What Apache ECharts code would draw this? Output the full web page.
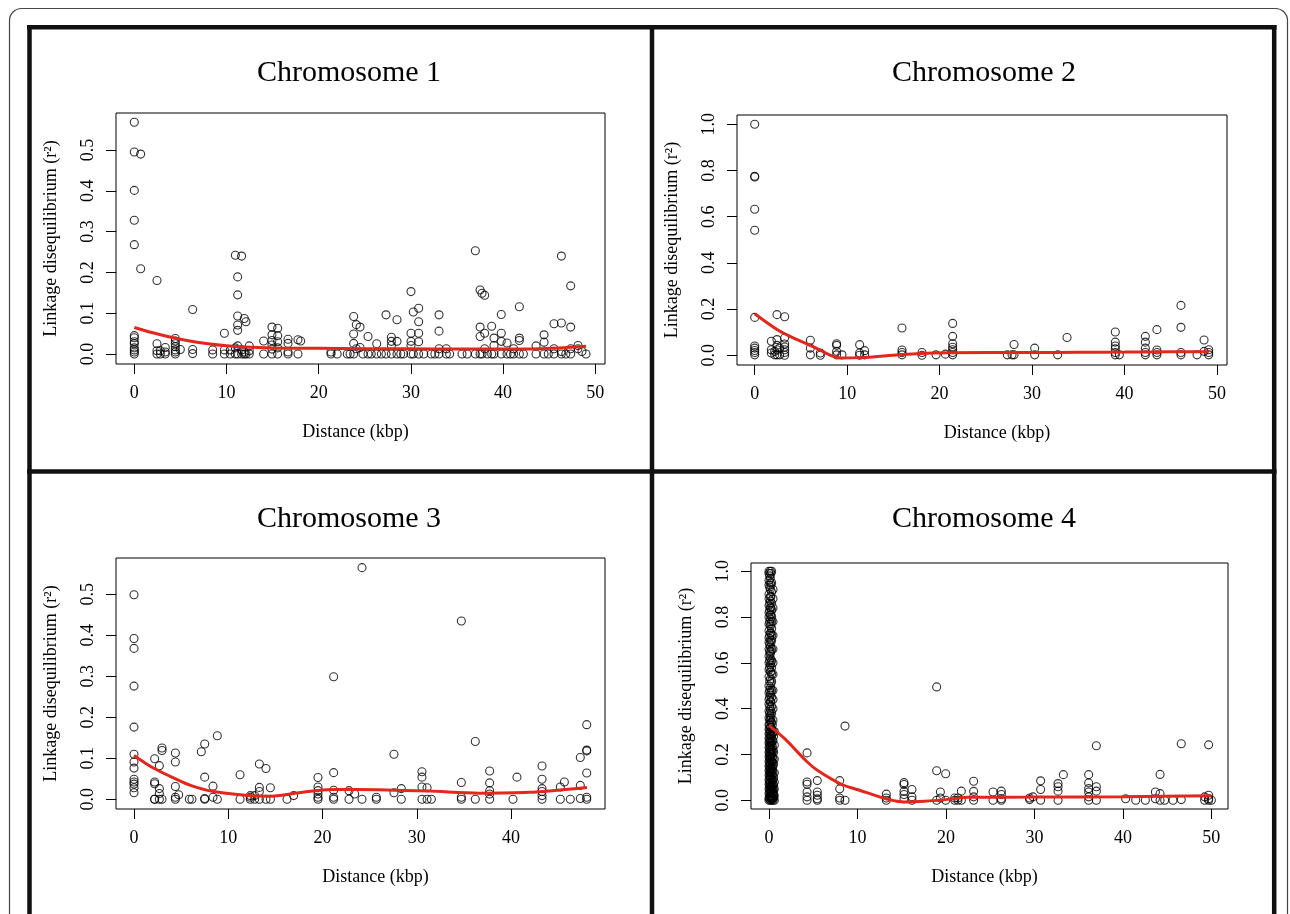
<!DOCTYPE html>
<html>
<head>
<meta charset="utf-8">
<title>Linkage disequilibrium decay</title>
<script src="https://cdn.jsdelivr.net/npm/echarts@6/dist/echarts.min.js"></script>
<style>
html, body { margin: 0; padding: 0; background: #fff; }
.ld { width: 1290px; height: 914px; }
</style>
</head>
<body>
<div class="ld"></div>
<script>
// distances (kbp) and the r2 values observed at each distance
var chr1Pos = [0, 0.69, 2.46, 2.82, 3.36, 4.45, 4.99, 6.33, 8.5, 9.77, 10.41, 10.96, 11.21, 11.64, 11.93, 12.11, 12.47,
	14.03, 14.93, 15.55, 16.67, 17.75, 18.04, 21.33, 22.0, 23.1, 23.4, 23.79, 24.08, 24.48, 24.8, 25.35, 25.7, 26.29, 26.8,
	27.3, 27.88, 28.49, 28.9, 29.2, 30.01, 30.26, 30.84, 31.4, 32.2, 32.6, 33.05, 33.84, 34.2, 35.54, 36.1, 36.99, 37.5,
	37.71, 38.0, 38.3, 38.76, 39.01, 39.8, 40.42, 40.8, 41.14, 41.76, 42.2, 43.57, 44.44, 44.9, 45.52, 46.32, 46.8, 47.33,
	48.12, 48.55, 48.99];
var chr1R2 = [
	[0.568, 0.495, 0.401, 0.328, 0.268, 0.045, 0.040, 0.030, 0.025, 0.015, 0.010, 0.005, 0.0],
	[0.490, 0.209], [0.180, 0.025, 0.008, 0.0], [0.008, 0.0], [0.016, 0.005, 0.0],
	[0.038, 0.032, 0.025, 0.018, 0.010, 0.005, 0.0], [0.011], [0.109, 0.011, 0.001], [0.010, 0.0],
	[0.051, 0.010, 0.0], [0.010, 0.0], [0.242, 0.015, 0.0], [0.189, 0.145, 0.093, 0.071, 0.058, 0.020, 0.0],
	[0.240, 0.010, 0.0], [0.087, 0.005, 0.0], [0.079, 0.0], [0.020, 0.008, 0.0],
	[0.032, 0.0], [0.066, 0.047, 0.033, 0.022, 0.012, 0.0], [0.063, 0.045, 0.030, 0.015, 0.0],
	[0.036, 0.026, 0.005, 0.0], [0.035, 0.0], [0.032], [0.005, 0.0], [0.0], [0.0], [0.0],
	[0.092, 0.049, 0.026, 0.0], [0.072, 0.013], [0.066, 0.016], [0.0], [0.043, 0.0], [0.0], [0.025, 0.0], [0.0],
	[0.096, 0.0], [0.041, 0.031, 0.021, 0.0], [0.084, 0.031, 0.0], [0.0], [0.0],
	[0.153, 0.051, 0.031, 0.021, 0.0], [0.103, 0.0], [0.112, 0.079, 0.051, 0.030, 0.0], [0.0], [0.0], [0.0],
	[0.096, 0.056, 0.013, 0.0], [0.013, 0.0], [0.0], [0.0], [0.0], [0.253, 0.0], [0.157, 0.066, 0.043, 0.0],
	[0.149, 0.0], [0.144, 0.051, 0.013], [0.0], [0.068, 0.0], [0.039, 0.021, 0.0], [0.097, 0.051, 0.031, 0.0],
	[0.027, 0.0], [0.0], [0.013, 0.0], [0.116, 0.039, 0.033, 0.0], [0.0], [0.020, 0.0], [0.047, 0.029, 0.0], [0.0],
	[0.074, 0.013, 0.0], [0.240, 0.076, 0.006, 0.0], [0.0], [0.167, 0.066, 0.013, 0.0],
	[0.021, 0.013], [0.006], [0.0]
];

var chr2Pos = [0, 1.80, 2.16, 2.41, 2.70, 3.24, 6.02, 7.10, 8.86, 9.44, 11.35, 11.89, 15.93, 18.09, 19.61, 20.62,
	21.41, 27.32, 27.83, 28.05, 30.28, 32.77, 33.78, 39.0, 39.44, 42.25, 43.5, 46.1, 47.84, 48.6, 49.1];
var chr2R2 = [
	[1.0, 0.775, 0.772, 0.632, 0.541, 0.164, 0.040, 0.031, 0.021, 0.012, 0.002],
	[0.061, 0.024, 0.010], [0.017, 0.002], [0.176, 0.068, 0.043, 0.024, 0.002], [0.031, 0.002],
	[0.167, 0.075, 0.049, 0.036, 0.024, 0.012, 0.0], [0.065, 0.031, 0.002], [0.010, 0.0],
	[0.050, 0.043, 0.017, 0.002], [0.002], [0.046, 0.010, 0.0], [0.020, 0.002], [0.118, 0.023, 0.012, 0.002],
	[0.012, 0.0], [0.002], [0.005], [0.138, 0.082, 0.050, 0.035, 0.024, 0.012, 0.002], [0.002], [0.002],
	[0.047, 0.002], [0.031, 0.002], [0.002], [0.077], [0.101, 0.057, 0.040, 0.028, 0.012, 0.002], [0.002],
	[0.082, 0.057, 0.031, 0.012, 0.002], [0.111, 0.023, 0.012, 0.002], [0.216, 0.121, 0.012, 0.002], [0.002],
	[0.066, 0.017], [0.024, 0.012, 0.002]
];

var chr3Pos = [0, 2.19, 2.69, 2.97, 4.39, 4.74, 5.87, 6.15, 7.14, 7.50, 8.38, 8.84, 11.25, 12.34, 12.80, 13.3, 14.0,
	14.47, 16.23, 16.94, 19.52, 21.18, 22.81, 23.41, 24.19, 25.71, 27.58, 28.36, 30.55, 31.09, 31.55, 34.73, 36.21,
	37.73, 40.21, 40.63, 43.29, 45.23, 45.66, 46.29, 47.35, 48.03];
var chr3R2 = [
	[0.499, 0.392, 0.368, 0.276, 0.176, 0.110, 0.091, 0.076, 0.049, 0.042, 0.037, 0.028, 0.016],
	[0.099, 0.042, 0.038, 0.0, 0.0], [0.082, 0.026, 0.014, 0.0], [0.125, 0.119, 0.0], [0.113, 0.091, 0.031, 0.005, 0.0],
	[0.011], [0.0], [0.0], [0.116], [0.135, 0.054, 0.002, 0.0], [0.032, 0.005], [0.155, 0.0], [0.060, 0.0],
	[0.009, 0.005, 0.0], [0.009, 0.0], [0.086, 0.029, 0.019, 0.0], [0.075, 0.0], [0.028, 0.0], [0.0], [0.009],
	[0.053, 0.030, 0.021, 0.013, 0.005, 0.0], [0.299, 0.065, 0.022, 0.005, 0.0], [0.021, 0.0], [0.013], [0.565, 0.0],
	[0.005, 0.0], [0.110, 0.016], [0.026, 0.0], [0.067, 0.054, 0.030, 0.0], [0.028, 0.0], [0.0],
	[0.435, 0.041, 0.005, 0.0], [0.141, 0.0], [0.069, 0.040, 0.021, 0.013, 0.0], [0.0], [0.054],
	[0.081, 0.049, 0.026, 0.019, 0.009, 0.0], [0.030, 0.0], [0.042], [0.0], [0.102, 0.034, 0.002],
	[0.182, 0.120, 0.118, 0.064, 0.005, 0.0]
];

var chr4Pos = [0, 0.08, 0.15, 0.22, 0.3, 0.38, 0.45, 0.52, 0.6, 4.30, 5.46, 7.99, 8.59, 13.26, 15.26, 16.16, 18.95,
	19.37, 19.97, 20.99, 21.36, 21.74, 23.13, 25.32, 26.26, 29.46, 29.84, 30.70, 32.67, 33.27, 36.13, 37.0, 40.31,
	41.45, 42.54, 43.67, 44.2, 44.72, 45.66, 46.6, 49.24, 49.69, 50.0];
var chr4R2 = [
	[1.0, 0.99, 0.96, 0.94, 0.90, 0.88, 0.85, 0.82, 0.80, 0.77, 0.74, 0.71, 0.69, 0.66, 0.63, 0.60, 0.57, 0.54, 0.50,
		0.47, 0.44, 0.42, 0.39, 0.36, 0.33, 0.31, 0.29, 0.27, 0.25, 0.23, 0.21, 0.19, 0.17, 0.15, 0.13, 0.11, 0.09,
		0.07, 0.05, 0.03, 0.01, 0.0],
	[0.98, 0.93, 0.86, 0.83, 0.78, 0.72, 0.68, 0.65, 0.61, 0.58, 0.52, 0.48, 0.45, 0.41, 0.38, 0.35, 0.33, 0.31,
		0.29, 0.27, 0.255, 0.24, 0.225, 0.21, 0.195, 0.18, 0.165, 0.15, 0.135, 0.12, 0.105, 0.09, 0.075, 0.06, 0.045,
		0.03, 0.015, 0.005],
	[1.0, 0.97, 0.95, 0.92, 0.89, 0.87, 0.84, 0.81, 0.79, 0.76, 0.73, 0.70, 0.67, 0.64, 0.62, 0.59, 0.56, 0.53, 0.49,
		0.46, 0.43, 0.40, 0.37, 0.35, 0.32, 0.30, 0.28, 0.26, 0.24, 0.22, 0.20, 0.18, 0.16, 0.14, 0.12, 0.10, 0.08,
		0.06, 0.04, 0.02, 0.0],
	[0.99, 0.94, 0.89, 0.84, 0.81, 0.77, 0.73, 0.69, 0.65, 0.60, 0.56, 0.51, 0.47, 0.43, 0.39, 0.36, 0.34, 0.32,
		0.30, 0.285, 0.265, 0.25, 0.235, 0.215, 0.20, 0.185, 0.17, 0.155, 0.14, 0.125, 0.11, 0.095, 0.08, 0.065, 0.05,
		0.035, 0.02, 0.008],
	[1.0, 0.95, 0.91, 0.86, 0.83, 0.80, 0.78, 0.75, 0.72, 0.70, 0.66, 0.61, 0.58, 0.55, 0.52, 0.48, 0.45, 0.41, 0.38,
		0.34, 0.31, 0.28, 0.25, 0.22, 0.20, 0.17, 0.14, 0.12, 0.09, 0.06, 0.04, 0.02, 0.01, 0.0],
	[0.33, 0.29, 0.26, 0.235, 0.21, 0.19, 0.165, 0.145, 0.13, 0.11, 0.085, 0.065, 0.045, 0.03, 0.015, 0.005],
	[0.92, 0.88, 0.84, 0.78, 0.72, 0.66, 0.60, 0.55, 0.48, 0.44, 0.40, 0.35, 0.30, 0.26, 0.22, 0.18, 0.15, 0.12,
		0.09, 0.07, 0.05, 0.03, 0.01, 0.0],
	[0.28, 0.21, 0.16, 0.10, 0.065, 0.04, 0.025, 0.01],
	[0.30, 0.24, 0.18, 0.12, 0.08, 0.05, 0.02, 0.0],
	[0.207, 0.080, 0.070, 0.036, 0.015, 0.0], [0.086, 0.036, 0.022, 0.007, 0.0], [0.086, 0.050, 0.010, 0.0],
	[0.324, 0.0], [0.027, 0.010, 0.0], [0.077, 0.069, 0.039, 0.025, 0.007], [0.047, 0.015, 0.0], [0.495, 0.129, 0.0],
	[0.036, 0.010], [0.116, 0.0], [0.010, 0.0], [0.010, 0.0], [0.040, 0.0], [0.083, 0.039, 0.015, 0.0], [0.036, 0.0],
	[0.040, 0.025, 0.007, 0.0], [0.010, 0.003], [0.015], [0.085, 0.047, 0.0], [0.073, 0.059, 0.040, 0.0], [0.112],
	[0.112, 0.076, 0.051, 0.036, 0.015, 0.0], [0.238, 0.059, 0.040, 0.0], [0.007], [0.0], [0.0], [0.036, 0.007],
	[0.113, 0.029, 0.0], [0.0], [0.0], [0.247, 0.003], [0.015, 0.0], [0.242, 0.022, 0.007, 0.0], [0.0]
];

// loess fits (red lines)
var chr1FitX = [0, 2, 4, 6, 8, 10, 12, 15, 20, 25, 30, 35, 40, 44, 47, 49];
var chr1FitY = [0.065, 0.052, 0.041, 0.032, 0.025, 0.020, 0.017, 0.015, 0.014, 0.013, 0.013, 0.012, 0.012, 0.013, 0.016, 0.019];
var chr2FitX = [0, 2.6, 4.4, 6.6, 8.2, 9.4, 11.9, 15.6, 19.2, 25, 30, 35, 40, 45, 49.1];
var chr2FitY = [0.18, 0.107, 0.071, 0.032, 0.0, -0.012, -0.009, 0.002, 0.010, 0.012, 0.012, 0.013, 0.014, 0.015, 0.015];
var chr3FitX = [0, 2, 4.4, 6, 8.3, 11.8, 14.3, 17.5, 21.0, 25.9, 31.3, 36.6, 41.9, 48.06];
var chr3FitY = [0.107, 0.077, 0.050, 0.034, 0.0195, 0.0098, 0.0073, 0.016, 0.024, 0.023, 0.020, 0.015, 0.017, 0.029];
var chr4FitX = [0, 1.77, 4.33, 5.5, 8.17, 10.06, 13.45, 15.3, 17.6, 20.2, 22.5, 30, 40, 50];
var chr4FitY = [0.327, 0.269, 0.167, 0.13, 0.07, 0.046, 0.004, -0.007, -0.004, 0.004, 0.013, 0.014, 0.016, 0.020];

var titles = ['Chromosome 1', 'Chromosome 2', 'Chromosome 3', 'Chromosome 4'];
var xTicks50 = [0, 10, 20, 30, 40, 50];
var xTicks40 = [0, 10, 20, 30, 40];
var yTicksHalf = [0, 0.1, 0.2, 0.3, 0.4, 0.5];
var yTicksOne = [0, 0.2, 0.4, 0.6, 0.8, 1.0];

var serif = 'Liberation Serif';

function toPoints(pos, r2) {
	var pts = [];
	pos.forEach(function (d, i) {
		r2[i].forEach(function (v) { pts.push([d, v]); });
	});
	return pts;
}
function toLine(xs, ys) {
	return xs.map(function (x, i) { return [x, ys[i]]; });
}

var panels = [
	{ pts: toPoints(chr1Pos, chr1R2), fit: toLine(chr1FitX, chr1FitY), xt: xTicks50, yt: yTicksHalf,
		left: 116, top: 113, width: 489, height: 251, xMin: -1.985, xMax: 51.05, yMin: -0.0245, yMax: 0.5907,
		tx: 349, ty: 73, shift: -5 },
	{ pts: toPoints(chr2Pos, chr2R2), fit: toLine(chr2FitX, chr2FitY), xt: xTicks50, yt: yTicksOne,
		left: 737, top: 115, width: 490, height: 250, xMin: -1.914, xMax: 51.08, yMin: -0.042, yMax: 1.040,
		tx: 984, ty: 73, shift: 15 },
	{ pts: toPoints(chr3Pos, chr3R2), fit: toLine(chr3FitX, chr3FitY), xt: xTicks40, yt: yTicksHalf,
		left: 116, top: 558, width: 489, height: 251, xMin: -1.91, xMax: 49.97, yMin: -0.0237, yMax: 0.5885,
		tx: 349, ty: 519, shift: 15 },
	{ pts: toPoints(chr4Pos, chr4R2), fit: toLine(chr4FitX, chr4FitY), xt: xTicks50, yt: yTicksOne,
		left: 751, top: 563, width: 477, height: 246, xMin: -2.035, xMax: 51.88, yMin: -0.038, yMax: 1.036,
		tx: 984, ty: 519, shift: -5 }
];

var grids = [], xAxes = [], yAxes = [], series = [], titleList = [];
panels.forEach(function (p, i) {
	grids.push({
		left: p.left, top: p.top, width: p.width, height: p.height,
		show: true, borderColor: '#000', borderWidth: 1, backgroundColor: 'transparent',
		outerBoundsMode: 'none'
	});
	titleList.push({
		text: titles[i], left: p.tx, top: p.ty - 15, textAlign: 'center', padding: 0,
		textStyle: { fontFamily: serif, fontSize: 30, fontWeight: 'normal', color: '#000' }
	});
	var pad = p.shift > 0 ? [0, 0, 0, 2 * p.shift] : [0, -2 * p.shift, 0, 0];
	xAxes.push({
		type: 'value', gridIndex: i, min: p.xMin, max: p.xMax,
		axisLine: { show: false, onZero: false }, splitLine: { show: false },
		axisTick: { show: true, length: 10, customValues: p.xt, lineStyle: { color: '#000', width: 1 } },
		axisLabel: { customValues: p.xt, margin: 20, fontFamily: serif, fontSize: 18, color: '#000',
			formatter: function (v) { return String(Math.round(v)); } },
		name: 'Distance (kbp)', nameLocation: 'middle', nameGap: 59,
		nameTextStyle: { fontFamily: serif, fontSize: 18, color: '#000', padding: pad }
	});
	yAxes.push({
		type: 'value', gridIndex: i, min: p.yMin, max: p.yMax,
		axisLine: { show: false, onZero: false }, splitLine: { show: false },
		axisTick: { show: true, length: 10, customValues: p.yt, lineStyle: { color: '#000', width: 1 } },
		axisLabel: { customValues: p.yt, rotate: 90, margin: 19, fontFamily: serif, fontSize: 18, color: '#000',
			formatter: function (v) { return v.toFixed(1); } },
		name: 'Linkage disequilibrium (r²)', nameLocation: 'middle', nameRotate: 90, nameGap: 56,
		nameTextStyle: { fontFamily: serif, fontSize: 18, color: '#000' }
	});
	series.push({
		type: 'scatter', xAxisIndex: i, yAxisIndex: i, data: p.pts,
		symbol: 'circle', symbolSize: 8,
		itemStyle: { color: 'rgba(0,0,0,0)', borderColor: '#000', borderWidth: 1.1 },
		emphasis: { disabled: true }
	});
	series.push({
		type: 'line', xAxisIndex: i, yAxisIndex: i, data: p.fit,
		smooth: 0.3, showSymbol: false, clip: false,
		lineStyle: { color: '#e2271d', width: 3 },
		z: 3
	});
});

var frame = [
	{ type: 'rect', shape: { x: 9.5, y: 8.5, width: 1278, height: 1000, r: 12 },
		style: { fill: 'none', stroke: '#444', lineWidth: 1.2 } },
	{ type: 'line', shape: { x1: 27, y1: 27.3, x2: 1276.5, y2: 27.3 }, style: { stroke: '#111', lineWidth: 4.5 } },
	{ type: 'line', shape: { x1: 27, y1: 471.5, x2: 1276.5, y2: 471.5 }, style: { stroke: '#111', lineWidth: 4.5 } },
	{ type: 'line', shape: { x1: 29.5, y1: 25, x2: 29.5, y2: 914 }, style: { stroke: '#111', lineWidth: 4.5 } },
	{ type: 'line', shape: { x1: 652, y1: 25, x2: 652, y2: 914 }, style: { stroke: '#111', lineWidth: 4.5 } },
	{ type: 'line', shape: { x1: 1274.2, y1: 25, x2: 1274.2, y2: 914 }, style: { stroke: '#111', lineWidth: 4.5 } }
];

var myChart = echarts.init(document.querySelector('.ld'));
var option = {
	backgroundColor: '#fff',
	animation: false,
	title: titleList,
	grid: grids,
	xAxis: xAxes,
	yAxis: yAxes,
	series: series,
	graphic: { elements: frame }
};
myChart.setOption(option);

window.addEventListener('resize', function () {
	myChart.resize();
})
</script>
</body>
</html>
